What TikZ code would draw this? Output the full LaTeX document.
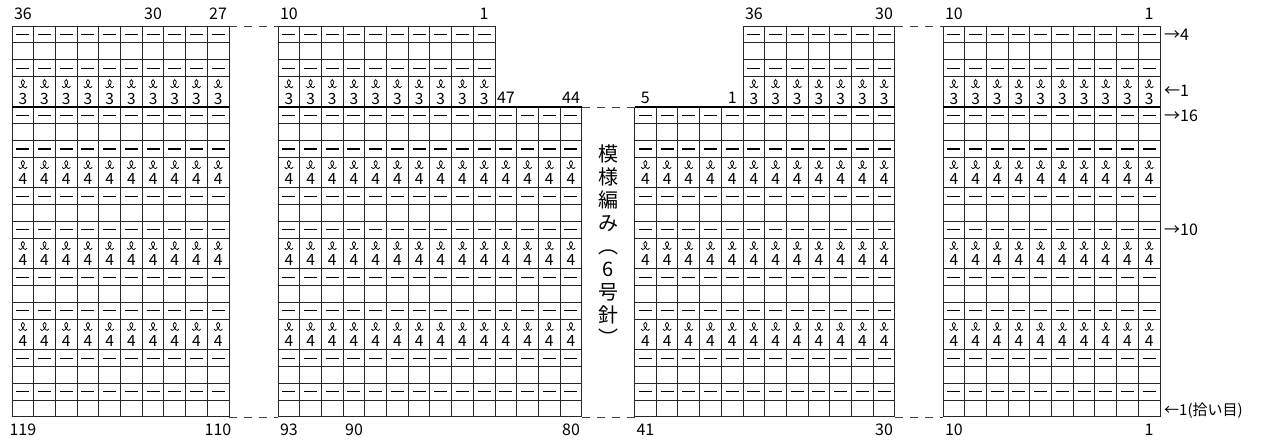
\documentclass[tikz,border=0pt]{standalone}
\usepackage{fontspec}
\setmainfont{Noto Sans CJK JP}
\usepackage{tikz}
\usetikzlibrary{positioning}
\tikzset{
gridline/.style = {draw=black!85, line width=0.9pt},
thickline/.style = {draw=black, line width=2.4pt},
purl/.style = {draw=black, line width=1.1pt},
cutline/.style = {draw=black!75, line width=0.8pt, dash pattern=on 8pt off 7pt},
symline/.style = {draw=black, line width=0.75pt},
num/.style = {font=\fontsize{16}{18}\selectfont, inner sep=0pt},
wrapnum/.style = {font=\fontsize{15.5}{17}\selectfont, inner sep=0pt},
rowlbl/.style = {font=\fontsize{16}{18}\selectfont, inner sep=0pt, anchor=west}
}
\tikzset{
wrapst/.pic = {
  \draw[symline] (-4.2,2) .. controls (-4.2,4) and (-1.6,4) .. (0,1.4)
                 .. controls (2.2,-1.5) and (2,-4.6) .. (0,-4.6)
                 .. controls (-2,-4.6) and (-2.2,-1.5) .. (0,1.4)
                 .. controls (1.6,4) and (4.2,4) .. (4.2,2);
}
}
\newcommand{\colw}{21.7}
% upper part: 4 rows above the thick line
\newcommand{\upperblock}[2]{%
  \foreach \y in {26.1,42.9,59.7,76.5}
    \draw[gridline] (#1,\y) -- ++(#2*\colw,0);
  \foreach \i in {0,...,#2} \draw[gridline] (#1+\i*\colw,26.1) -- ++(0,80.9);
  \foreach \i in {1,...,#2} {
    \foreach \y in {34.5,68.1}
      \draw[purl] ({#1+(\i-0.5)*\colw-6.5},\y) -- ++(13,0);
    \pic at ({#1+(\i-0.5)*\colw},84.3) {wrapst};
    \node[wrapnum] at ({#1+(\i-0.5)*\colw},98.5) {3};
  }
}
% lower part: 16 rows below the thick line
\newcommand{\lowerblock}[2]{%
  \foreach \y in {123.8,140.6,157.4,187.9,204.7,221.5,238.3,268.8,285.6,302.4,319.2,349.7,366.5,383.3,400.1,416.9}
    \draw[gridline] (#1,\y) -- ++(#2*\colw,0);
  \foreach \i in {0,...,#2} \draw[gridline] (#1+\i*\colw,107) -- ++(0,309.9);
  \foreach \i in {1,...,#2} {
    \foreach \y in {115.4,149,196.3,229.9,277.2,310.8,358.1,391.7}
      \draw[purl] ({#1+(\i-0.5)*\colw-6.5},\y) -- ++(13,0);
    \foreach \y in {157.4,238.3,319.2} {
      \pic at ({#1+(\i-0.5)*\colw},\y+7.8) {wrapst};
      \node[wrapnum] at ({#1+(\i-0.5)*\colw},\y+22) {4};
    }
  }
  \draw[thickline] (#1,107) -- ++(#2*\colw,0);
}

\begin{document}
\begin{tikzpicture}[x=1pt, y=-1pt]
\useasboundingbox (0,0) rectangle (1262,442);

\upperblock{12}{10}
\lowerblock{12}{10}
\upperblock{278}{10}
\lowerblock{278}{14}
\upperblock{743}{7}
\lowerblock{634.5}{12}
\upperblock{943}{10}
\lowerblock{943}{10}

\coordinate (Atr) at (229,26.1);
\coordinate (Btl) at (278,26.1);
\coordinate (Abr) at (229,416.9);
\coordinate (Bbl) at (278,416.9);
\coordinate (Bmr) at (581.8,107);
\coordinate (Cml) at (634.5,107);
\coordinate (Bbr) at (581.8,416.9);
\coordinate (Cbl) at (634.5,416.9);
\coordinate (Ctr) at (894.9,26.1);
\coordinate (Dtl) at (943,26.1);
\coordinate (Cbr) at (894.9,416.9);
\coordinate (Dbl) at (943,416.9);
\draw[cutline] (Atr) -- (Btl);
\draw[cutline] (Abr) -- (Bbl);
\draw[cutline] (Bmr) -- (Cml);
\draw[cutline] (Bbr) -- (Cbl);
\draw[cutline] (Ctr) -- (Dtl);
\draw[cutline] (Cbr) -- (Dbl);

% stitch numbers
\node[num] (a36) at (22.9,13.5) {36};
\node[num] (a30) at (153,13.5) {30};
\node[num] (a27) at (218,13.5) {27};
\node[num] (b10) at (288.9,13.5) {10};
\node[num] (b1) at (484,13.5) {1};
\node[num] (b47) at (505.9,97.5) {47};
\node[num] (b44) at (571,97.5) {44};
\node[num] (c5) at (645.4,97.5) {5};
\node[num] (c1) at (732.2,97.5) {1};
\node[num] (c36) at (753.9,13.5) {36};
\node[num] (c30) at (884,13.5) {30};
\node[num] (d10) at (953.9,13.5) {10};
\node[num] (d1) at (1149,13.5) {1};
\node[num] (a119) at (22.9,430) {119};
\node[num] (a110) at (218,430) {110};
\node[num] (b93) at (288.9,430) {93};
\node[num] (b90) at (354,430) {90};
\node[num] (b80) at (571,430) {80};
\node[num] (c41) at (645.4,430) {41};
\node[num] (c30b) at (884,430) {30};
\node[num] (d10b) at (953.9,430) {10};
\node[num] (d1b) at (1149,430) {1};

% row numbers
\node[rowlbl] (r4) at (1164,34.5) {→4};
\node[rowlbl] (r1u) at (1164,91) {←1};
\node[rowlbl] (r16) at (1164,115.4) {→16};
\node[rowlbl] (r10) at (1164,229.9) {→10};
\node[rowlbl, font=\fontsize{15}{17}\selectfont] (r1) at (1164,411) {←1(拾い目)};

\node[font=\fontsize{20}{23}\selectfont, align=center, inner sep=0pt] (title) at (608,245)
  {模\\様\\編\\み\\︵\\6\\号\\針\\︶};
\end{tikzpicture}
\end{document}
